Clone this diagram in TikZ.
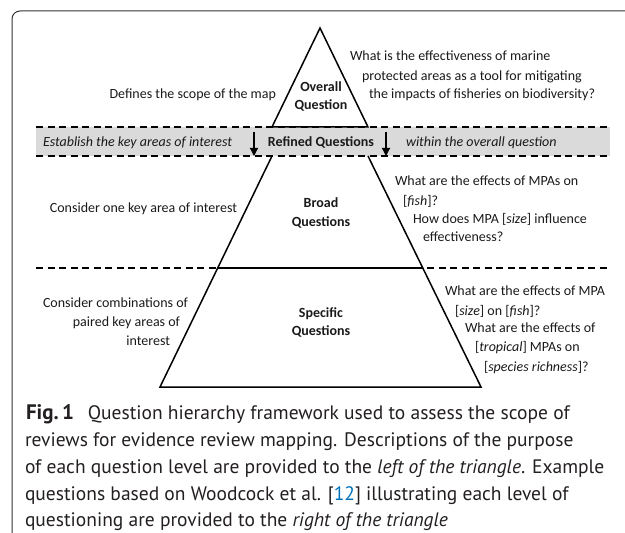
\documentclass[tikz,border=0pt]{standalone}
\usepackage{fontspec}
\setmainfont{Carlito}
\newfontfamily\capfont{PT Sans}
\usetikzlibrary{arrows.meta}
\definecolor{bandgray}{HTML}{DADADA}
\definecolor{txt}{HTML}{1A1A1A}
\definecolor{captxt}{HTML}{231F20}
\definecolor{refblue}{HTML}{0072BC}
\definecolor{framegray}{HTML}{333333}
\begin{document}
\begin{tikzpicture}[x=1bp,y=-1bp,
  lab/.style={inner sep=0pt, outer sep=0pt, text=txt, font=\fontsize{14bp}{18bp}\selectfont},
  rq/.style={lab, anchor=base west},
  lq/.style={lab, anchor=base east},
  head/.style={lab, anchor=base, font=\fontsize{14bp}{18bp}\selectfont\bfseries},
  sepline/.style={line width=1.4bp, dash pattern=on 7bp off 4.5bp},
  edgeline/.style={line width=1.5bp, line join=miter},
  downarrow/.style={line width=1.4bp, -{Triangle[length=8bp,width=8bp]}},
  capline/.style={inner sep=0pt, outer sep=0pt, anchor=base west, text=captxt,
    font=\capfont\fontsize{19.5bp}{26bp}\selectfont}
]
\useasboundingbox (0,0) rectangle (625,533);
% frame
\draw[framegray, line width=1bp, rounded corners=8bp] (12,533) -- (12,11) -- (625,11);

% band
\fill[bandgray] (36,127) rectangle (610,156);
\draw[sepline] (36,127) -- (610,127);
\draw[sepline] (36,156) -- (610,156);
\draw[sepline] (36,268) -- (610,268);

% pyramid
\coordinate (apex) at (320,28);
\coordinate (t1) at (272,127);
\coordinate (t2) at (368,127);
\coordinate (b1) at (272,156);
\coordinate (b2) at (368,156);
\coordinate (m1) at (218,268);
\coordinate (m2) at (422,268);
\coordinate (s1) at (160,387);
\coordinate (s2) at (481,387);
\draw[edgeline] (apex) -- (t1) -- (t2) -- cycle;
\draw[edgeline] (b1) -- (s1) -- (s2) -- (b2);
\draw[line width=2bp] (m1) -- (m2);

% arrows
\coordinate (la0) at (254,132);
\coordinate (la1) at (254,156);
\coordinate (ra0) at (386,132);
\coordinate (ra1) at (386,156);
\draw[downarrow] (la0) -- (la1);
\draw[downarrow] (ra0) -- (ra1);

% centre headings
\node[head] (ov1) at (321,92) {Overall};
\node[head] (ov2) at (321,110) {Question};
\node[head] (ref) at (321,147) {Refined Questions};
\node[head] (br1) at (321,208) {Broad};
\node[head] (br2) at (321,227) {Questions};
\node[head] (sp1) at (321,317) {Specific};
\node[head] (sp2) at (321,335) {Questions};

% left descriptions
\node[lq] (l1) at (276,99) {Defines the scope of the map};
\node[lab, anchor=base west] (l2) at (43,147) {\itshape Establish the key areas of interest};
\node[lq] (l3) at (237,213) {Consider one key area of interest};
\node[lq] (l4a) at (188,307) {Consider combinations of};
\node[lq] (l4b) at (180,326) {paired key areas of};
\node[lq] (l4c) at (170,345) {interest};

% right examples
\node[rq] (r1a) at (350,61) {What is the effectiveness of marine};
\node[rq] (r1b) at (362,81) {protected areas as a tool for mitigating};
\node[rq] (r1c) at (369,99) {the impacts of fisheries on biodiversity?};
\node[rq] (r2) at (406,147) {\itshape within the overall question};
\node[rq] (r3a) at (395,186) {What are the effects of MPAs on};
\node[rq] (r3b) at (403,206) {[\textit{fish}]?};
\node[rq] (r3c) at (413,224) {How does MPA [\textit{size}] influence};
\node[rq] (r3d) at (423,242) {effectiveness?};
\node[rq] (r4a) at (445,295) {What are the effects of MPA};
\node[rq] (r4b) at (455,315) {[\textit{size}] on [\textit{fish}]?};
\node[rq] (r4c) at (465,332) {What are the effects of};
\node[rq] (r4d) at (475,351) {[\textit{tropical}] MPAs on};
\node[rq] (r4e) at (484,371) {[\textit{species richness}]?};

% caption
\node[capline] (c1) at (26,419) {{\fontsize{21bp}{26bp}\selectfont\bfseries Fig.\,1}\hspace{0.7em}Question hierarchy framework used to assess the scope of};
\node[capline] (c2) at (25,446) {reviews for evidence review mapping. Descriptions of the purpose};
\node[capline] (c3) at (25,473) {of each question level are provided to the \textit{left of the triangle}. Example};
\node[capline] (c4) at (25,500) {questions based on Woodcock et al. [{\color{refblue}12}] illustrating each level of};
\node[capline] (c5) at (25,526) {questioning are provided to the \textit{right of the triangle}};
\end{tikzpicture}
\end{document}
